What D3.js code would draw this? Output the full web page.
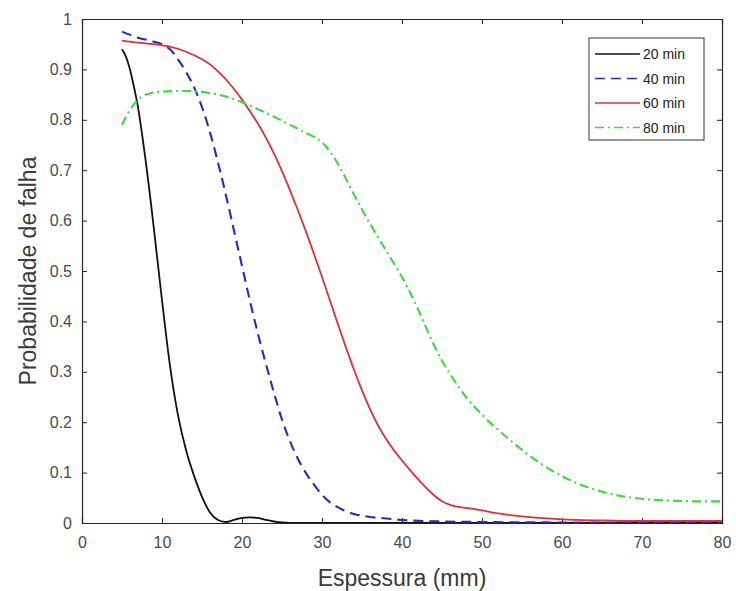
<!DOCTYPE html>
<html>
<head>
<meta charset="utf-8">
<script src="https://cdn.jsdelivr.net/npm/d3@7"></script>
<style>
  body { margin: 0; background: #fff; }
  svg { display: block; font-family: "Liberation Sans", Arial, sans-serif; }
</style>
</head>
<body>
<svg id="chart" width="736" height="591"></svg>
<script>
// thickness (mm) vs failure probability, one array per exposure time
var xTicks = [0, 10, 20, 30, 40, 50, 60, 70, 80];
var yTicks = [0, 0.1, 0.2, 0.3, 0.4, 0.5, 0.6, 0.7, 0.8, 0.9, 1];
var seriesNames = ["20 min", "40 min", "60 min", "80 min"];

var min20 = [[5,0.94],[5.5,0.925],[6,0.9],[6.5,0.865],[7,0.825],[7.5,0.772],[8,0.714],[8.5,0.65],
  [9,0.582],[10,0.442],[11,0.312],[12,0.214],[13,0.145],[14,0.094],[15,0.052],[16,0.021],[17,0.006],
  [18,0.002],[19,0.006],[20,0.01],[21,0.011],[22,0.01],[23,0.006],[24,0.003],[25,0.001],[27,0],[80,0]];

var min40 = [[5,0.975],[7,0.963],[9,0.955],[10,0.95],[11,0.94],[12,0.92],[13,0.895],[14,0.865],
  [15,0.825],[16,0.775],[17,0.715],[18,0.65],[19,0.58],[20,0.51],[21,0.44],[22,0.375],[23,0.315],
  [24,0.258],[25,0.205],[26,0.162],[27,0.127],[28,0.099],[29,0.076],[30,0.056],[31,0.041],[32,0.031],
  [34,0.018],[36,0.012],[38,0.009],[40,0.006],[45,0.003],[50,0.002],[60,0.001],[80,0]];

var min60 = [[5,0.957],[7,0.953],[9,0.95],[11,0.945],[13,0.935],[15,0.92],[16,0.91],[17,0.896],
  [18,0.88],[19,0.861],[20,0.84],[21,0.817],[22,0.792],[23,0.764],[24,0.733],[25,0.698],[26,0.66],
  [27,0.62],[28,0.578],[29,0.534],[30,0.488],[31,0.441],[32,0.394],[33,0.348],[34,0.304],[35,0.263],
  [36,0.226],[37,0.194],[38,0.167],[39,0.144],[40,0.124],[41,0.105],[42,0.087],[43,0.07],[44,0.055],
  [45,0.043],[46,0.036],[47,0.032],[48,0.03],[50,0.025],[52,0.019],[55,0.013],[58,0.009],[60,0.007],
  [65,0.005],[70,0.004],[80,0.004]];

var min80 = [[5,0.79],[6,0.82],[7,0.84],[8,0.85],[10,0.856],[12,0.857],[14,0.857],[16,0.853],
  [18,0.846],[20,0.835],[22,0.821],[24,0.806],[26,0.79],[28,0.774],[30,0.755],[31,0.737],[32,0.712],
  [33,0.683],[34,0.652],[35,0.622],[36,0.594],[37,0.567],[38,0.541],[39,0.515],[40,0.488],[41,0.458],
  [42,0.424],[43,0.388],[44,0.353],[45,0.322],[46,0.296],[47,0.272],[48,0.25],[50,0.215],[52,0.185],
  [54,0.158],[56,0.133],[58,0.111],[60,0.093],[62,0.078],[64,0.067],[66,0.058],[68,0.052],[70,0.048],
  [74,0.044],[77,0.043],[80,0.043]];

var series = [
  {name: seriesNames[0], data: min20, color: "#111111", dash: null},
  {name: seriesNames[1], data: min40, color: "#2a2ab4", dash: "10,6"},
  {name: seriesNames[2], data: min60, color: "#d8323a", dash: null},
  {name: seriesNames[3], data: min80, color: "#3fd93f", dash: "9,4,2,4"}
];

var pLeft = 82, pRight = 722, pTop = 19, pBottom = 523;
var svg = d3.select("#chart");

var x = d3.scaleLinear().domain([0, 80]).range([pLeft, pRight]);
var y = d3.scaleLinear().domain([0, 1]).range([pBottom, pTop]);

// axes, MATLAB style box with ticks inside on all sides
var axisColor = "#262626", labelColor = "#4a4a4a";

var xAxis = svg.append("g").attr("transform", "translate(0," + pBottom + ")")
  .call(d3.axisBottom(x).tickValues(xTicks).tickSize(-5).tickPadding(14).tickFormat(d3.format("d")));
var xTop = svg.append("g").attr("transform", "translate(0," + pTop + ")")
  .call(d3.axisTop(x).tickValues(xTicks).tickSize(-5).tickFormat(""));
var yAxis = svg.append("g").attr("transform", "translate(" + pLeft + ",0)")
  .call(d3.axisLeft(y).tickValues(yTicks).tickSize(-5).tickPadding(10).tickFormat(function(d){
    return d === 0 || d === 1 ? d3.format("d")(d) : d3.format(".1f")(d);
  }));
var yRight = svg.append("g").attr("transform", "translate(" + pRight + ",0)")
  .call(d3.axisRight(y).tickValues(yTicks).tickSize(-5).tickFormat(""));

[xAxis, xTop, yAxis, yRight].forEach(function(g){
  g.select(".domain").attr("stroke", axisColor).attr("stroke-width", 1.2);
  g.selectAll(".tick line").attr("stroke", axisColor);
  g.selectAll(".tick text").attr("fill", labelColor).style("font-size", "16px");
});

var line = d3.line()
  .x(function(d){ return x(d[0]); })
  .y(function(d){ return y(d[1]); })
  .curve(d3.curveMonotoneX);

svg.append("defs").append("clipPath").attr("id", "plotclip")
  .append("rect").attr("x", pLeft).attr("y", pTop - 2).attr("width", pRight - pLeft).attr("height", pBottom - pTop + 2);

svg.append("g").attr("clip-path", "url(#plotclip)")
  .selectAll("path.series").data(series).enter()
  .append("path")
  .classed("series", true)
  .attr("d", function(s){ return line(s.data); })
  .attr("fill", "none")
  .attr("stroke", function(s){ return s.color; })
  .attr("stroke-width", function(s){ return s.dash ? 2.1 : 1.8; })
  .attr("stroke-dasharray", function(s){ return s.dash; });

// axis titles
svg.append("text")
  .attr("x", (pLeft + pRight) / 2).attr("y", 586)
  .attr("text-anchor", "middle")
  .attr("fill", "#3a3a3a")
  .style("font-size", "23px")
  .text("Espessura (mm)");

svg.append("text")
  .attr("transform", "translate(36," + ((pTop + pBottom) / 2) + ") rotate(-90)")
  .attr("text-anchor", "middle")
  .attr("fill", "#3a3a3a")
  .style("font-size", "23px")
  .text("Probabilidade de falha");

// legend
var legend = svg.append("g");
legend.append("rect")
  .attr("x", 589).attr("y", 38).attr("width", 115).attr("height", 102)
  .attr("fill", "#fff").attr("stroke", "#333").attr("stroke-width", 1);

var rows = legend.selectAll("g.row").data(series).enter()
  .append("g").classed("row", true)
  .attr("transform", function(d, i){ return "translate(0," + (54 + i * 24.5) + ")"; });

rows.append("line")
  .attr("x1", 595).attr("x2", 640).attr("y1", 0).attr("y2", 0)
  .attr("stroke", function(s){ return s.color; })
  .attr("stroke-width", 1.5)
  .attr("stroke-dasharray", function(s){ return s.dash; });

rows.append("text")
  .attr("x", 643).attr("y", 5)
  .attr("fill", "#222")
  .style("font-size", "14px")
  .text(function(s){ return s.name; });
</script>
</body>
</html>
